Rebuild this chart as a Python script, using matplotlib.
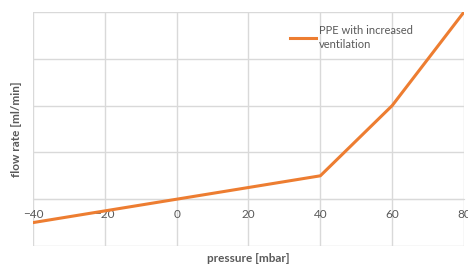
import matplotlib
matplotlib.use("Agg")
import matplotlib.pyplot as plt

pressure = [-40, -20, 0, 20, 40, 60, 80]
flow_rate = [-0.5, -0.25, 0.0, 0.25, 0.5, 2.0, 4.0]
series_label = "PPE with increased\nventilation"
x_ticks = [-40, -20, 0, 20, 40, 60, 80]
y_ticks = [-1, 0, 1, 2, 3, 4]

plt.rcParams['font.family'] = ['Lato', 'DejaVu Sans']
gray = '#595959'
grid_c = '#d9d9d9'

fig = plt.figure(figsize=(4.68, 2.64), dpi=100)
ax = fig.add_axes([33/468, 18/264, (464-33)/468, (246-12)/264])

ax.plot(pressure, flow_rate, color='#ED7D31', lw=2.2, label=series_label,
        solid_joinstyle='round', zorder=3)

ax.set_xlim(-40, 80)
ax.set_ylim(-1, 4)
ax.set_xticks(x_ticks)
ax.set_yticks(y_ticks)
ax.set_yticklabels([])
ax.grid(True, color=grid_c, lw=1)
ax.set_axisbelow(True)
for s in ['top', 'right', 'left']:
    ax.spines[s].set_visible(False)
ax.spines['bottom'].set_position(('data', 0))
ax.spines['bottom'].set_color(grid_c)
ax.tick_params(axis='both', length=0, colors=gray, labelsize=8.5, pad=7)
for lbl in ax.get_xticklabels():
    lbl.set_clip_on(False)

ax.text(0.5, -0.03, 'pressure [mbar]', transform=ax.transAxes, ha='center',
        va='top', fontsize=8.5, fontweight='bold', color=gray)
fig.text(17/468, 1 - 129/264, 'flow rate [ml/min]', rotation=90, ha='center',
         va='center', fontsize=8.5, fontweight='bold', color=gray)

leg = ax.legend(loc='upper left', bbox_to_anchor=((294-33)/431 - 0.01, 1 - (25-12)/234),
                frameon=False, fontsize=8, handlelength=2.4, handletextpad=0.2,
                borderaxespad=0, borderpad=0, labelspacing=0.6)
for t in leg.get_texts():
    t.set_color(gray)
    t.set_linespacing(1.3)

fig.savefig('out.png', dpi=100)
